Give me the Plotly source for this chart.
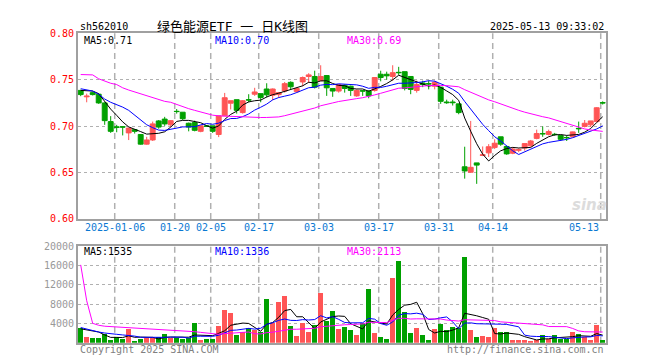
import plotly.graph_objects as go

W, H = 660, 360

# ---------------- data ----------------
month_days = [
    ("2024-12", [26, 27, 30, 31]),
    ("2025-01", [2, 3, 6, 7, 8, 9, 10, 13, 14, 15, 16, 17, 20, 21, 22, 23, 24, 27]),
    ("2025-02", [5, 6, 7, 10, 11, 12, 13, 14, 17, 18, 19, 20, 21, 24, 25, 26, 27, 28]),
    ("2025-03", [3, 4, 5, 6, 7, 10, 11, 12, 13, 14, 17, 18, 19, 20, 21, 24, 25, 26, 27, 28, 31]),
    ("2025-04", [1, 2, 3, 7, 8, 9, 10, 11, 14, 15, 16, 17, 18, 21, 22, 23, 24, 25, 28, 29, 30]),
    ("2025-05", [6, 7, 8, 9, 12, 13]),
]
dates = [f"{m}-{d:02d}" for m, ds in month_days for d in ds]

opens = [0.7385, 0.7316, 0.7361, 0.7344, 0.7250, 0.7049, 0.6993, 0.6993, 0.6927, 0.6962,
         0.6910, 0.6806, 0.6851, 0.7056, 0.7076, 0.7014, 0.7160, 0.7150, 0.7031, 0.7038,
         0.6944, 0.7003, 0.7003, 0.6910, 0.7111, 0.7247, 0.7285, 0.7146, 0.7285, 0.7344,
         0.7350, 0.7400, 0.7333, 0.7340, 0.7378, 0.7472, 0.7372, 0.7476, 0.7535, 0.7535,
         0.7490, 0.7545, 0.7406, 0.7378, 0.7441, 0.7430, 0.7326, 0.7382, 0.7378, 0.7385,
         0.7559, 0.7559, 0.7535, 0.7580, 0.7587, 0.7535, 0.7385, 0.7465, 0.7458, 0.7430,
         0.7420, 0.7260, 0.7260, 0.7240, 0.6562, 0.6503, 0.6604, 0.6684, 0.6712, 0.6771,
         0.6885, 0.6781, 0.6708, 0.6740, 0.6764, 0.6788, 0.6868, 0.6920, 0.6910, 0.6912,
         0.6900, 0.6878, 0.6885, 0.6976, 0.6997, 0.7014, 0.7049, 0.7253]
highs = [0.7392, 0.7350, 0.7372, 0.7350, 0.7257, 0.7108, 0.7014, 0.6997, 0.6980, 0.6965,
         0.6912, 0.6885, 0.7049, 0.7066, 0.7100, 0.7066, 0.7184, 0.7150, 0.7038, 0.7059,
         0.7003, 0.7006, 0.7003, 0.7111, 0.7358, 0.7274, 0.7285, 0.7281, 0.7344, 0.7413,
         0.7350, 0.7462, 0.7406, 0.7368, 0.7476, 0.7483, 0.7413, 0.7535, 0.7570, 0.7597,
         0.7656, 0.7545, 0.7406, 0.7455, 0.7448, 0.7437, 0.7396, 0.7385, 0.7385, 0.7524,
         0.7597, 0.7587, 0.7656, 0.7639, 0.7587, 0.7535, 0.7490, 0.7490, 0.7490, 0.7490,
         0.7420, 0.7285, 0.7285, 0.7240, 0.6778, 0.7056, 0.6604, 0.6781, 0.6806, 0.6858,
         0.6885, 0.6788, 0.6771, 0.6760, 0.6812, 0.6851, 0.6962, 0.6997, 0.6962, 0.6927,
         0.6900, 0.6900, 0.6941, 0.7049, 0.7066, 0.7056, 0.7205, 0.7267]
lows = [0.7323, 0.7257, 0.7330, 0.7240, 0.7014, 0.6927, 0.6934, 0.6900, 0.6850, 0.6920,
        0.6800, 0.6800, 0.6840, 0.6972, 0.7003, 0.6990, 0.7135, 0.7066, 0.6944, 0.6944,
        0.6934, 0.6997, 0.6927, 0.6882, 0.7111, 0.7180, 0.7135, 0.7135, 0.7257, 0.7326,
        0.7257, 0.7310, 0.7280, 0.7306, 0.7361, 0.7396, 0.7361, 0.7430, 0.7465, 0.7406,
        0.7490, 0.7326, 0.7316, 0.7361, 0.7361, 0.7326, 0.7316, 0.7326, 0.7300, 0.7372,
        0.7483, 0.7500, 0.7490, 0.7552, 0.7385, 0.7344, 0.7361, 0.7420, 0.7396, 0.7396,
        0.7240, 0.7240, 0.7222, 0.7128, 0.6434, 0.6503, 0.6378, 0.6677, 0.6667, 0.6753,
        0.6788, 0.6691, 0.6698, 0.6720, 0.6736, 0.6778, 0.6858, 0.6885, 0.6900, 0.6896,
        0.6840, 0.6840, 0.6885, 0.6927, 0.6986, 0.6990, 0.7038, 0.7233]
closes = [0.7340, 0.7323, 0.7340, 0.7250, 0.7059, 0.6944, 0.6986, 0.6990, 0.6979, 0.6944,
          0.6806, 0.6851, 0.7024, 0.6990, 0.7024, 0.7059, 0.7157, 0.7080, 0.6990, 0.6955,
          0.7003, 0.6997, 0.6944, 0.7111, 0.7306, 0.7274, 0.7170, 0.7274, 0.7281, 0.7368,
          0.7309, 0.7337, 0.7400, 0.7361, 0.7458, 0.7424, 0.7406, 0.7524, 0.7552, 0.7420,
          0.7535, 0.7413, 0.7378, 0.7448, 0.7406, 0.7385, 0.7385, 0.7378, 0.7326, 0.7524,
          0.7524, 0.7542, 0.7576, 0.7576, 0.7406, 0.7396, 0.7448, 0.7448, 0.7455, 0.7472,
          0.7267, 0.7253, 0.7253, 0.7146, 0.6517, 0.6556, 0.6580, 0.6691, 0.6778, 0.6816,
          0.6806, 0.6701, 0.6753, 0.6746, 0.6812, 0.6840, 0.6920, 0.6917, 0.6941, 0.6910,
          0.6858, 0.6875, 0.6938, 0.6972, 0.7031, 0.7056, 0.7198, 0.7250]
volumes = [3000, 1200, 1000, 1000, 1800, 470, 1200, 800, 2870, 200,
           670, 870, 870, 1200, 1870, 1000, 1000, 800, 1000, 4130,
           530, 800, 800, 3400, 6800, 6200, 1670, 2200, 3000, 2670,
           2200, 9000, 4000, 8400, 9600, 3400, 1400, 4000, 2200, 3600,
           10200, 4400, 6600, 2800, 3200, 2600, 1600, 4000, 11200, 2000,
           1200, 800, 13400, 17000, 6400, 2000, 3000, 1600, 600, 2800,
           3800, 2600, 3200, 3000, 17800, 2600, 1200, 1400, 1200, 3000,
           2200, 2200, 600, 600, 600, 400, 600, 1600, 800, 1600,
           800, 800, 2200, 1800, 1200, 600, 3600, 600]

# moving-average values at the start of the window (they depend on earlier,
# unseen sessions, so they are read off the picture)
ma5_head = [0.7385, 0.7378, 0.7378, 0.7350]
ma10_head = [0.7403, 0.7392, 0.7378, 0.7344, 0.7292, 0.7257, 0.7233, 0.7205, 0.7170]
ma30_head = [0.7556, 0.7556, 0.7552, 0.7510, 0.7483, 0.7462, 0.7448, 0.7413, 0.7389, 0.7368,
             0.7351, 0.7326, 0.7302, 0.7281, 0.7267, 0.7257, 0.7233, 0.7212, 0.7188, 0.7170,
             0.7153, 0.7142, 0.7118, 0.7111, 0.7108, 0.7108, 0.7100, 0.7097, 0.7094]
vma5_head = [2870, 2670, 2470, 2200]
vma10_head = [3130, 2800, 2530, 2200, 2000, 1930, 1730, 1600, 1530]
vma30_head = [16100, 8670, 4000, 3600, 3400, 3330, 3270, 3200, 3130, 3070,
              3000, 2930, 2870, 2800, 2730, 2670, 2600, 2470, 2400, 2270,
              2130, 2000, 1800, 1730, 1870, 2000, 2070, 2130, 2200]

price_ticks = [0.60, 0.65, 0.70, 0.75, 0.80]
vol_ticks = [4000, 8000, 12000, 16000, 20000]
tick_dates = ["2025-01-06", "2025-01-20", "2025-02-05", "2025-02-17", "2025-03-03",
              "2025-03-17", "2025-03-31", "2025-04-14", "2025-05-13"]
tick_labels = ["2025-01-06", "01-20", "02-05", "02-17", "03-03", "03-17", "03-31", "04-14", "05-13"]

title_code = "sh562010"
title_text = "绿色能源ETF 一 日K线图"
timestamp = "2025-05-13 09:33:02"
price_legend = ["MA5:0.71", "MA10:0.70", "MA30:0.69"]
vol_legend = ["MA5:1535", "MA10:1336", "MA30:2113"]


def moving_avg(vals, n, head):
    out = list(head)
    for i in range(len(head), len(vals)):
        window = vals[i - n + 1:i + 1]
        out.append(sum(window) / n)
    return out


ma5 = moving_avg(closes, 5, ma5_head)
ma10 = moving_avg(closes, 10, ma10_head)
ma30 = moving_avg(closes, 30, ma30_head)
vma5 = moving_avg(volumes, 5, vma5_head)
vma10 = moving_avg(volumes, 10, vma10_head)
vma30 = moving_avg(volumes, 30, vma30_head)

# ---------------- styles ----------------
RED = "#ff5555"
GREEN = "#00a000"
FRAME = "#a0a0a0"
GRID = "#b0b0b0"
MONO = "DejaVu Sans Mono"
MA_COLORS = ["#000000", "#0000ff", "#ff00ff"]

L, R = 70, 598
TOP1, BOT1 = 20, 212
TOP2, BOT2 = 240, 340


def py(y):
    return 1 - y / H


fig = go.Figure()
fig.add_trace(go.Candlestick(
    x=dates, open=opens, high=highs, low=lows, close=closes,
    increasing=dict(line=dict(color=RED, width=1), fillcolor=RED),
    decreasing=dict(line=dict(color=GREEN, width=1), fillcolor=GREEN),
    whiskerwidth=0, showlegend=False, hoverinfo="skip", xaxis="x", yaxis="y"))
for vals, col in zip([ma5, ma10, ma30], MA_COLORS):
    fig.add_trace(go.Scatter(x=dates, y=vals, mode="lines", line=dict(color=col, width=1),
                             showlegend=False, hoverinfo="skip", xaxis="x", yaxis="y"))

vol_colors = [RED if c > o else GREEN for o, c in zip(opens, closes)]
fig.add_trace(go.Bar(x=dates, y=volumes, marker=dict(color=vol_colors, line=dict(width=0)),
                     width=0.84, showlegend=False, hoverinfo="skip", xaxis="x2", yaxis="y2"))
for vals, col in zip([vma5, vma10, vma30], MA_COLORS):
    fig.add_trace(go.Scatter(x=dates, y=vals, mode="lines", line=dict(color=col, width=1),
                             showlegend=False, hoverinfo="skip", xaxis="x2", yaxis="y2"))

xcommon = dict(domain=[L / W, R / W], type="category", categoryorder="array",
               categoryarray=dates, range=[-0.45, 87.55], showticklabels=False,
               ticks="", showgrid=False, zeroline=False, showline=True, mirror=True,
               linecolor=FRAME, linewidth=2, fixedrange=True)
ycommon = dict(showgrid=True, gridcolor=GRID, griddash="dot", gridwidth=1, zeroline=False,
               showline=True, mirror=True, linecolor=FRAME, linewidth=2, ticks="",
               fixedrange=True)

fig.update_layout(
    width=W, height=H, margin=dict(l=0, r=0, t=0, b=0),
    paper_bgcolor="white", plot_bgcolor="white",
    boxgap=0.18, boxgroupgap=0, bargap=0,
    showlegend=False,
    xaxis=dict(**xcommon, anchor="y", rangeslider=dict(visible=False)),
    xaxis2=dict(**xcommon, anchor="y2"),
    yaxis=dict(**ycommon, domain=[py(BOT1), py(TOP1)], range=[0.6, 0.8], anchor="x",
               tickvals=price_ticks, ticktext=[f"{v:.2f}" for v in price_ticks],
               tickfont=dict(family=MONO, size=10, color="#ff0000")),
    yaxis2=dict(**ycommon, domain=[py(BOT2), py(TOP2)], range=[0, 20000], anchor="x2",
                tickvals=vol_ticks, ticktext=[str(v) for v in vol_ticks],
                tickfont=dict(family=MONO, size=10, color="#999999")),
)

# vertical dashed grid lines at the labelled sessions
shapes = []
for d in tick_dates:
    xi = dates.index(d) - 0.33
    for xr, yr in [("x", "y domain"), ("x2", "y2 domain")]:
        shapes.append(dict(type="line", xref=xr, yref=yr, x0=xi, x1=xi, y0=0, y1=1,
                           line=dict(color=GRID, width=1.5, dash="6px,4px"), layer="below"))
fig.update_layout(shapes=shapes)

ann = []
for k, (d, lab) in enumerate(zip(tick_dates, tick_labels)):
    xi = dates.index(d) - 0.33
    last = k == len(tick_dates) - 1
    ann.append(dict(x=xi + (0.1 if last else 0), y=py(221), xref="x", yref="paper", text=lab,
                    showarrow=False, xanchor="right" if last else "center", yanchor="middle",
                    font=dict(family=MONO, size=10, color="#0a78d2")))

ann.append(dict(x=L / W, y=py(13), xref="paper", yref="paper", text=title_code,
                showarrow=False, xanchor="left", yanchor="middle",
                font=dict(family=MONO, size=10, color="#000000")))
ann.append(dict(x=224 / W, y=py(13), xref="paper", yref="paper", text=title_text,
                showarrow=False, xanchor="center", yanchor="middle",
                font=dict(family=MONO + ", Noto Sans CJK SC", size=13, color="#000000")))
ann.append(dict(x=R / W, y=py(13), xref="paper", yref="paper", text=timestamp,
                showarrow=False, xanchor="right", yanchor="middle",
                font=dict(family=MONO, size=10, color="#000000")))

leg_x = [74, 205, 337]
for txt, col, lx in zip(price_legend, MA_COLORS, leg_x):
    ann.append(dict(x=lx / W, y=py(27), xref="paper", yref="paper", text=txt, showarrow=False,
                    xanchor="left", yanchor="middle", font=dict(family=MONO, size=10, color=col)))
for txt, col, lx in zip(vol_legend, MA_COLORS, leg_x):
    ann.append(dict(x=lx / W, y=py(246), xref="paper", yref="paper", text=txt, showarrow=False,
                    xanchor="left", yanchor="middle", font=dict(family=MONO, size=10, color=col)))

ann.append(dict(x=L / W, y=py(347), xref="paper", yref="paper", text="Copyright 2025 SINA.COM",
                showarrow=False, xanchor="left", yanchor="middle",
                font=dict(family=MONO, size=10, color="#808080")))
ann.append(dict(x=R / W, y=py(347), xref="paper", yref="paper", text="http://finance.sina.com.cn",
                showarrow=False, xanchor="right", yanchor="middle",
                font=dict(family=MONO, size=10, color="#808080")))
ann.append(dict(x=581 / W, y=py(198), xref="paper", yref="paper", text="sina",
                showarrow=False, xanchor="center", yanchor="middle",
                font=dict(family="DejaVu Sans", size=15, color="#dcdcdc", style="italic",
                          weight="bold")))
fig.update_layout(annotations=ann)

fig.write_html("out.html")
